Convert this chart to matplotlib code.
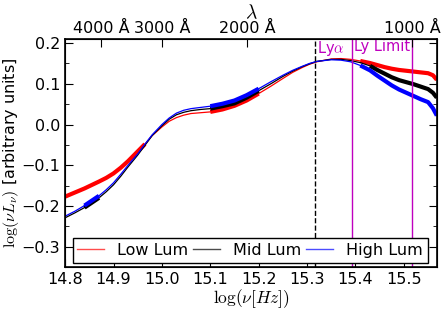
import matplotlib
matplotlib.use("Agg")
import matplotlib.pyplot as plt
import numpy as np

plt.rcParams['mathtext.fontset'] = 'cm'
plt.rcParams['font.family'] = 'DejaVu Sans'

# log(nu) grid
lognu = [14.80, 14.82, 14.84, 14.87, 14.885, 14.90, 14.915, 14.93, 14.95, 14.965,
         14.98, 15.00, 15.015, 15.03, 15.045, 15.06, 15.08, 15.10, 15.125, 15.15,
         15.175, 15.20, 15.225, 15.25, 15.27, 15.29, 15.305, 15.32, 15.35, 15.37,
         15.39, 15.41, 15.43, 15.445, 15.46, 15.475, 15.49, 15.505, 15.52, 15.535,
         15.55, 15.56, 15.568]

low_lum = [-0.177, -0.167, -0.157, -0.140, -0.131, -0.120, -0.106, -0.090, -0.066, -0.048,
           -0.027, -0.006, 0.008, 0.017, 0.023, 0.027, 0.029, 0.031, 0.037, 0.046,
           0.059, 0.076, 0.094, 0.113, 0.128, 0.140, 0.148, 0.154, 0.161, 0.162,
           0.160, 0.156, 0.151, 0.146, 0.141, 0.137, 0.134, 0.132, 0.130, 0.128,
           0.126, 0.121, 0.110]
mid_lum = [-0.229, -0.217, -0.204, -0.180, -0.165, -0.148, -0.127, -0.104, -0.075, -0.051,
           -0.027, -0.003, 0.013, 0.024, 0.030, 0.034, 0.037, 0.039, 0.045, 0.052,
           0.066, 0.083, 0.100, 0.118, 0.131, 0.142, 0.149, 0.155, 0.160, 0.160,
           0.157, 0.152, 0.144, 0.134, 0.125, 0.116, 0.109, 0.104, 0.099, 0.093,
           0.087, 0.078, 0.066]
high_lum = [-0.225, -0.213, -0.199, -0.175, -0.160, -0.143, -0.122, -0.100, -0.072, -0.048,
            -0.025, 0.000, 0.016, 0.028, 0.035, 0.039, 0.042, 0.045, 0.051, 0.059,
            0.072, 0.088, 0.105, 0.121, 0.133, 0.143, 0.150, 0.155, 0.159, 0.158,
            0.154, 0.145, 0.133, 0.120, 0.108, 0.096, 0.086, 0.078, 0.070, 0.062,
            0.055, 0.040, 0.022]

# ranges covered by data (drawn thick)
low_ranges = [(14.80, 14.965), (15.10, 15.20), (15.41, 15.568)]
mid_ranges = [(14.84, 14.87), (15.10, 15.20), (15.43, 15.568)]
high_ranges = [(14.84, 14.87), (15.10, 15.20), (15.41, 15.568)]

labels = ['Low Lum', 'Mid Lum', 'High Lum']
colors = ['red', 'black', 'blue']

# wavelengths (Angstrom) for top axis and the marked lines
top_waves = [4000, 3000, 2000, 912]
top_labels = ['4000 Å', '3000 Å', '2000 Å', '1000 Å']
wave_1450 = 1450
wave_lya = 1216
wave_lylim = 912

c_ang = 2.998e18


def lognu_of(w):
    return np.log10(c_ang / w)


fig = plt.figure(figsize=(4.43, 3.12), dpi=100)
ax = fig.add_axes([0.147, 0.144, 0.839, 0.731])

x = np.array(lognu)
for vals, rngs, col, lab in zip([low_lum, mid_lum, high_lum],
                                [low_ranges, mid_ranges, high_ranges],
                                colors, labels):
    y = np.array(vals)
    ax.plot(x, y, color=col, lw=0.9, label=lab)
    for a, b in rngs:
        m = (x >= a - 1e-9) & (x <= b + 1e-9)
        ax.plot(x[m], y[m], color=col, lw=3, solid_capstyle='butt')

ax.axvline(lognu_of(wave_1450), color='black', ls='--', lw=1)
ax.axvline(lognu_of(wave_lya), color='m', lw=1)
ax.axvline(lognu_of(wave_lylim), color='m', lw=1)
ax.text(lognu_of(wave_1450) + 0.006, 0.209, r'Ly$\alpha$', color='m',
        fontsize=10.5, va='top', ha='left')
ax.text(lognu_of(wave_lya) + 0.004, 0.209, 'Ly Limit', color='m',
        fontsize=10.5, va='top', ha='left')

ax.set_xlim(14.8, 15.568)
ax.set_ylim(-0.35, 0.21)
ax.set_xticks([14.8, 14.9, 15.0, 15.1, 15.2, 15.3, 15.4, 15.5])
ax.set_yticks([-0.3, -0.2, -0.1, 0.0, 0.1, 0.2])
ax.set_yticks(np.arange(-0.35, 0.21, 0.05), minor=True)
ax.tick_params(axis='both', which='both', direction='in', labelsize=11.5)
ax.tick_params(axis='y', which='both', right=True)
ax.tick_params(axis='both', which='major', length=6)
ax.tick_params(axis='y', which='minor', length=3)
for s in ax.spines.values():
    s.set_linewidth(1.2)

ax.set_xlabel(r'$\log(\nu[Hz])$', fontsize=12.5, labelpad=0)
ax.set_ylabel(r'$\log(\nu L_\nu)$ [arbitrary units]', fontsize=11.5, labelpad=0)

ax2 = ax.twiny()
ax2.set_xlim(ax.get_xlim())
ax2.set_xticks([lognu_of(w) for w in top_waves])
ax2.set_xticklabels(top_labels)
ax2.tick_params(direction='in', length=6, labelsize=11.5, pad=2)
ax2.set_xlabel(r'$\lambda$', fontsize=14, labelpad=2)

leg = ax.legend(loc='lower center', bbox_to_anchor=(0.02, 0.02, 0.955, 0.125),
                mode='expand', ncol=3, fontsize=11.5, fancybox=False,
                edgecolor='black', framealpha=1, handlelength=1.7,
                borderaxespad=0, borderpad=0.3)
for h in leg.get_lines():
    h.set_linewidth(1)
    h.set_alpha(0.7)

fig.savefig('out.png', dpi=100)
